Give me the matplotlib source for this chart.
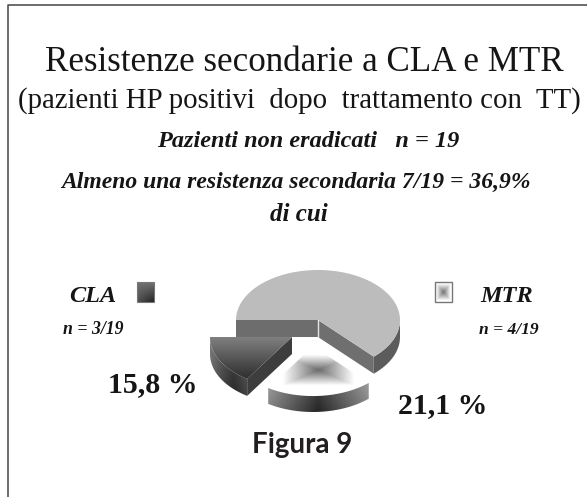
import numpy as np
import matplotlib
matplotlib.use('Agg')
import matplotlib.pyplot as plt
from matplotlib.patches import Polygon
from matplotlib.colors import LinearSegmentedColormap

# data
slices = ['Altro', 'MTR', 'CLA']
shares = [63.1, 21.1, 15.8]
share_labels = ['15,8 %', '21,1 %']
legend_names = ['CLA', 'MTR']
legend_counts = ['n = 3/19', 'n = 4/19']
title = 'Resistenze secondarie a CLA e MTR'
subtitle = '(pazienti HP positivi  dopo  trattamento con  TT)'
line1 = 'Pazienti non eradicati   n = 19'
line2 = 'Almeno una resistenza secondaria 7/19 = 36,9%'
line3 = 'di cui'
caption = 'Figura 9'

plt.rcParams['font.family'] = ['Liberation Serif', 'DejaVu Serif']

fig = plt.figure(figsize=(5.87, 4.97), dpi=100)
ax = fig.add_axes([0, 0, 1, 1])

# pie geometry, pixels
cx, cy = 318, 320
rx, ry = 82, 50
depth = 17
n_pts = 80

# clockwise from the left side
edges = 180 - np.cumsum([0] + shares) * 3.6
a_big = edges[0], edges[1]
a_mtr = edges[1], edges[2]
a_cla = edges[2], edges[3]


def arc(c, a0, a1, dy=0):
    t = np.radians(np.linspace(a0, a1, n_pts))
    return np.column_stack([c[0] + rx * np.cos(t), c[1] - ry * np.sin(t) + dy])


def wedge_top(c, a0, a1):
    return np.vstack([[c], arc(c, a0, a1)])


def wall(c, a0, a1):
    return np.vstack([arc(c, a0, a1), arc(c, a1, a0, depth)])


def cut(c, a):
    p = arc(c, a, a)[0]
    return [c, p, (p[0], p[1] + depth), (c[0], c[1] + depth)]


def grad_fill(poly, img, cmap, z):
    poly = np.asarray(poly)
    x0, x1 = poly[:, 0].min(), poly[:, 0].max()
    y0, y1 = poly[:, 1].min(), poly[:, 1].max()
    im = ax.imshow(img, extent=(x0, x1, y1, y0), cmap=cmap, vmin=0, vmax=1,
                   aspect='auto', zorder=z, interpolation='bilinear')
    clip = Polygon(poly, closed=True, transform=ax.transData, fc='none', ec='none')
    ax.add_patch(clip)
    im.set_clip_path(clip)


gray = LinearSegmentedColormap.from_list('g', ['black', 'white'])
v = np.linspace(0, 1, 100)
xx, yy = np.meshgrid(v, v)

# big slice
ax.add_patch(Polygon(wall((cx, cy), 0, a_big[1]), fc='#5c5c5c', ec='none', zorder=2))
ax.add_patch(Polygon(cut((cx, cy), 180), fc='#6d6d6d', ec='none', zorder=2))
ax.add_patch(Polygon(cut((cx, cy), a_big[1]), fc='#6f6f6f', ec='none', zorder=2))
ax.add_patch(Polygon(wedge_top((cx, cy), *a_big), fc='#bcbcbc', ec='none', zorder=3))
ax.plot([cx, cx], [cy, cy + depth], color='#e6e6e6', lw=1, zorder=3)

# CLA slice
c_cla = (cx - 26, cy + 17)
grad_fill(wall(c_cla, *a_cla), 0.16 + 0.35 * np.abs(xx - 0.62) ** 1.2 + 0.15 * (1 - yy),
          gray, 4)
ax.add_patch(Polygon(cut(c_cla, a_cla[0]), fc='#3d3d3d', ec='none', zorder=4))
grad_fill(wedge_top(c_cla, *a_cla), 0.5 - 0.32 * yy, gray, 5)

# MTR slice
c_mtr = (cx - 5, cy + 25)
grad_fill(wall(c_mtr, *a_mtr), 0.15 + 0.7 * np.abs(xx - 0.5) + 0.12 * (1 - yy), gray, 4)
top_mtr = wedge_top(c_mtr, *a_mtr)
dist = np.maximum(np.abs(xx - 0.5) * 1.3, np.abs(yy - 0.5) * 1.5)
grad_fill(top_mtr, np.clip(0.42 + 1.25 * dist, 0, 1), gray, 5)
ax.add_patch(Polygon(top_mtr, fc='none', ec='white', lw=1.5, zorder=6))

# legend swatches
grad_fill([(137, 282), (154, 282), (154, 302), (137, 302)],
          0.45 - 0.32 * yy * (0.4 + 0.6 * xx), gray, 5)
ax.add_patch(Polygon([(137, 282), (154, 282), (154, 302), (137, 302)], fc='none',
                     ec='#777777', lw=0.8, zorder=6))
grad_fill([(435, 282), (452, 282), (452, 302), (435, 302)],
          np.clip(0.45 + 1.3 * np.maximum(np.abs(xx - 0.5), np.abs(yy - 0.5)), 0, 1),
          gray, 5)
ax.add_patch(Polygon([(435, 282), (452, 282), (452, 302), (435, 302)], fc='none',
                     ec='#777777', lw=1, zorder=6))

# frame, open on the right and at the bottom
ax.plot([8, 8, 587], [497, 4.5, 4.5], color='#444444', lw=1.1, zorder=6)

ink = '#151515'
ax.text(304, 71, title, fontsize=25.2, ha='center', va='baseline', color=ink)
ax.text(299, 108, subtitle, fontsize=20.8, ha='center', va='baseline', color=ink)
bi = dict(style='italic', weight='bold', ha='center', va='baseline', color=ink)
ax.text(308, 147, line1, fontsize=17.5, **bi)
ax.text(296, 188, line2, fontsize=17, **bi)
ax.text(299, 221, line3, fontsize=18, **bi)
ax.text(92.5, 302, legend_names[0], fontsize=17.5, **bi)
ax.text(506.5, 302, legend_names[1], fontsize=17.5, **bi)
ax.text(93, 334, legend_counts[0], fontsize=12.8, **bi)
ax.text(509, 334, legend_counts[1], fontsize=12.6, **bi)
ax.text(152.5, 392, share_labels[0], fontsize=21.5, weight='bold', ha='center',
        va='baseline', color=ink)
ax.text(442.5, 413, share_labels[1], fontsize=21.5, weight='bold', ha='center',
        va='baseline', color=ink)
ax.text(302, 453, caption, fontsize=20, weight='bold', family=['Lato', 'DejaVu Sans'],
        ha='center', va='baseline', color='#231f20')

ax.set_xlim(0, 587)
ax.set_ylim(497, 0)
ax.axis('off')

fig.savefig('out.png', dpi=100)
